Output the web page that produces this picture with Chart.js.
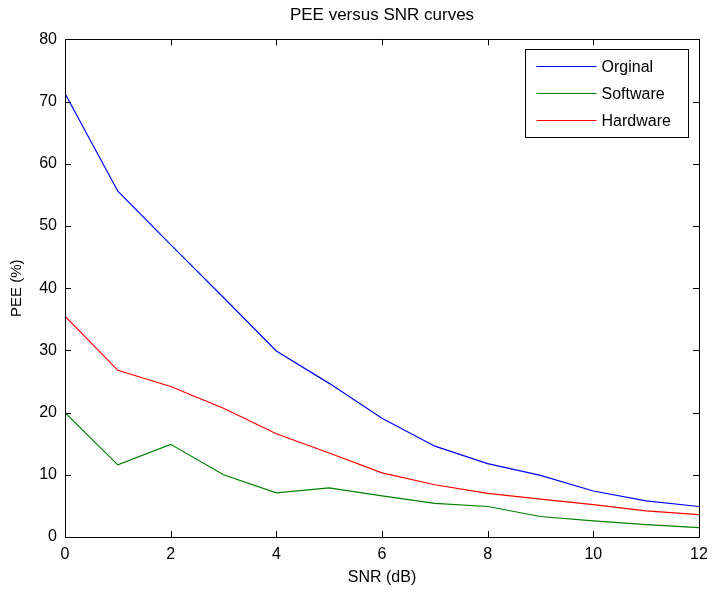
<!DOCTYPE html>
<html>
<head>
<meta charset="utf-8">
<script src="https://cdn.jsdelivr.net/npm/chart.js@4"></script>
<style>
  html, body { margin:0; padding:0; background:#fff; }
  #wrap { width:712px; height:596px; }
</style>
</head>
<body>
<div id="wrap"><canvas id="peeChart"></canvas></div>
<script>
const snr = [0,1,2,3,4,5,6,7,8,9,10,11,12];
const orginal  = [71.3,55.6,47.0,38.5,29.9,24.7,19.1,14.6,11.8,9.9,7.4,5.8,4.9];
const software = [20.0,11.6,14.9,10.0,7.1,7.9,6.6,5.4,4.9,3.3,2.6,2.0,1.5];
const hardware = [35.5,26.8,24.2,20.7,16.6,13.5,10.3,8.4,7.0,6.1,5.2,4.2,3.6];
const seriesNames = ['Orginal','Software','Hardware'];
const seriesColors = ['#0000ff','#008000','#ff0000'];
const xTicks = [0,2,4,6,8,10,12];
const yTicks = [0,10,20,30,40,50,60,70,80];

const FONT = 'Liberation Sans, Arial, sans-serif';

// box + inward ticks like matlab axes
const frame = {
  id:'frame',
  afterDatasetsDraw(chart){
    const {ctx, chartArea:a, scales:{x, y}} = chart;
    ctx.save();
    ctx.strokeStyle = '#000';
    ctx.lineWidth = 1;
    ctx.beginPath();
    ctx.rect(Math.round(a.left)+0.5, Math.round(a.top)+0.5, Math.round(a.right-a.left), Math.round(a.bottom-a.top));
    xTicks.forEach(v => {
      const px = Math.round(x.getPixelForValue(v))+0.5;
      ctx.moveTo(px, a.bottom); ctx.lineTo(px, a.bottom-6);
      ctx.moveTo(px, a.top); ctx.lineTo(px, a.top+6);
    });
    yTicks.forEach(v => {
      const py = Math.round(y.getPixelForValue(v))+0.5;
      ctx.moveTo(a.left, py); ctx.lineTo(a.left+6, py);
      ctx.moveTo(a.right, py); ctx.lineTo(a.right-6, py);
    });
    ctx.stroke();
    ctx.restore();
  },
  afterDraw(chart){
    // legend box in upper right corner
    const {ctx, chartArea:a} = chart;
    const bx = Math.round(a.right) - 173.5, by = Math.round(a.top) + 10.5, bw = 163, bh = 88;
    ctx.save();
    ctx.fillStyle = '#fff';
    ctx.fillRect(bx, by, bw, bh);
    ctx.strokeStyle = '#000';
    ctx.lineWidth = 1;
    ctx.strokeRect(bx, by, bw, bh);
    ctx.font = '16px ' + FONT;
    ctx.textBaseline = 'middle';
    seriesNames.forEach((name, i) => {
      const ly = Math.round(by + 16 + i*27) + 0.5;
      ctx.strokeStyle = seriesColors[i];
      ctx.lineWidth = 1.2;
      ctx.beginPath();
      ctx.moveTo(bx+11, ly); ctx.lineTo(bx+71, ly);
      ctx.stroke();
      ctx.fillStyle = '#000';
      ctx.fillText(name, bx+76, ly+1);
    });
    ctx.restore();
  }
};

new Chart(document.getElementById('peeChart'), {
  type:'line',
  data:{
    datasets: seriesNames.map((name, k) => ({
      label:name,
      data:snr.map((s,i)=>({x:s, y:[orginal, software, hardware][k][i]})),
      borderColor:seriesColors[k]
    }))
  },
  options:{
    responsive:true,
    maintainAspectRatio:false,
    animation:false,
    layout:{padding:{top:0, right:13, bottom:0, left:0}},
    elements:{line:{borderWidth:1.2, tension:0}, point:{radius:0}},
    plugins:{
      legend:{display:false},
      tooltip:{enabled:false},
      title:{display:true, fullSize:false, text:'PEE versus SNR curves', color:'#000',
             font:{family:FONT, size:17, weight:'normal'}, padding:{top:5, bottom:14}}
    },
    scales:{
      x:{
        type:'linear', min:0, max:12,
        grid:{display:false, drawTicks:false},
        border:{display:false},
        ticks:{stepSize:2, color:'#000', padding:8, font:{family:FONT, size:16}, maxRotation:0},
        title:{display:true, text:'SNR (dB)', color:'#000', font:{family:FONT, size:16}, padding:{top:0, bottom:9}},
        afterFit(scale){ scale.height = 59; scale.paddingLeft = 0; scale.paddingRight = 0; }
      },
      y:{
        min:0, max:80,
        grid:{display:false, drawTicks:false},
        border:{display:false},
        ticks:{stepSize:10, color:'#000', padding:8, font:{family:FONT, size:16}},
        title:{display:true, text:'PEE (%)', color:'#000', font:{family:FONT, size:15}, padding:{top:8, bottom:0}},
        afterFit(scale){ scale.width = 65; }
      }
    }
  },
  plugins:[frame]
});
</script>
</body>
</html>
